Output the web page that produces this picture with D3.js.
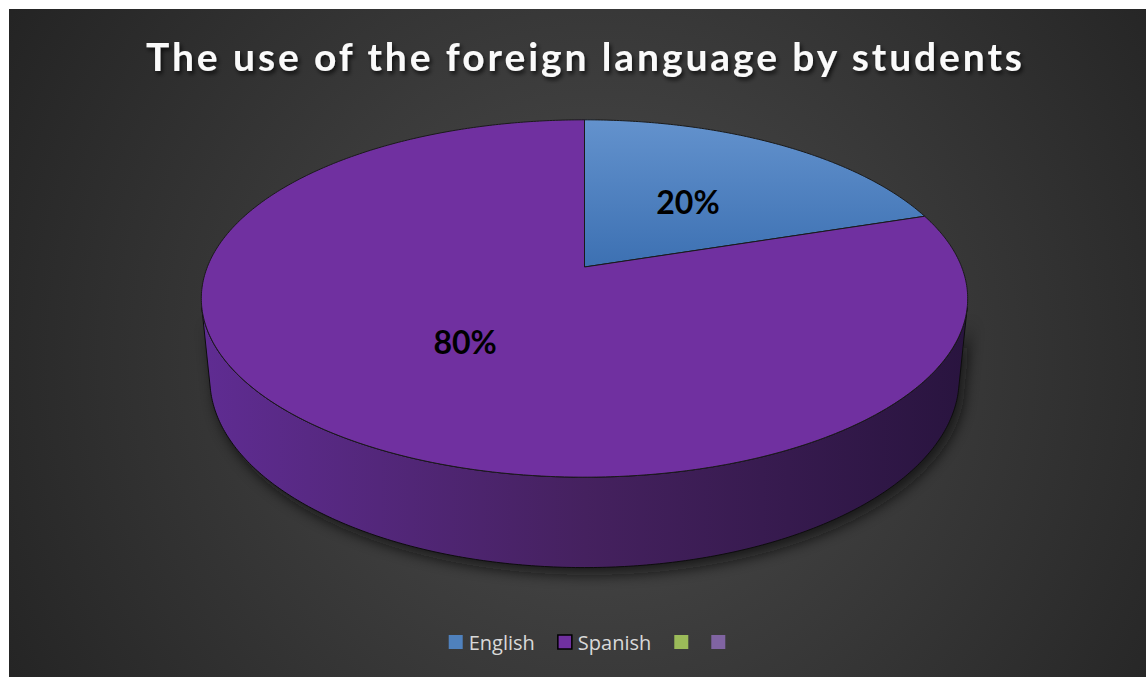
<!DOCTYPE html>
<html>
<head>
<meta charset="utf-8">
<script src="https://cdn.jsdelivr.net/npm/d3@7"></script>
<style>
body { margin: 0; background: #fff; }
</style>
</head>
<body>
<svg width="1147" height="677"></svg>
<script>
var titleText = "The use of the foreign language by students";
var categories = ["English", "Spanish", "", ""];
var shares = [20, 80, 0, 0];

var topColors = ["#4f81bd", "#7030a0", "#9bbb59", "#8064a2"];
var svg = d3.select("svg");
var defs = svg.append("defs");

// chart area with the dark radial fill
var bg = defs.append("radialGradient").attr("id", "bg")
  .attr("gradientUnits", "userSpaceOnUse")
  .attr("cx", 600).attr("cy", 360).attr("r", 700);
bg.append("stop").attr("offset", 0).attr("stop-color", "#4d4d4d");
bg.append("stop").attr("offset", 1).attr("stop-color", "#232323");

svg.append("rect").attr("x", 9).attr("y", 9).attr("width", 1137).attr("height", 668)
  .attr("fill", "url(#bg)");

// title
var ts = defs.append("filter").attr("id", "tshadow").attr("x", "-10%").attr("y", "-30%")
  .attr("width", "120%").attr("height", "160%");
ts.append("feDropShadow").attr("dx", 2).attr("dy", 3).attr("stdDeviation", 2)
  .attr("flood-color", "#000").attr("flood-opacity", 0.7);

svg.append("text")
  .text(titleText)
  .attr("x", 584).attr("y", 71)
  .attr("text-anchor", "middle")
  .attr("font-family", "Lato")
  .attr("font-weight", "bold")
  .attr("font-size", "39px")
  .attr("textLength", 876)
  .attr("lengthAdjust", "spacing")
  .attr("fill", "#fafafa")
  .attr("filter", "url(#tshadow)");

// perspective pie: world circle radius 1, camera tilt and distance fitted to picture
var cx = 584.5, cy = 267;
var sinA = 0.459, cosA = Math.sqrt(1 - sinA * sinA);
var D = 5.04, F = 1901, depth = 0.242;

function project(phi, r, yw) {
  var X = r * Math.sin(phi), Z = -r * Math.cos(phi);
  var zc = Z * cosA + yw * sinA;
  var yc = yw * cosA - Z * sinA;
  var s = F / (D - zc);
  return [cx + X * s, cy - yc * s];
}

var pie = d3.pie().sort(null).value(function (d) { return d; });
var arcs = pie(shares);

function arcPoints(a0, a1, r, yw) {
  var n = Math.max(2, Math.ceil(Math.abs(a1 - a0) / 0.01));
  return d3.range(n + 1).map(function (i) { return project(a0 + (a1 - a0) * i / n, r, yw); });
}

var line = d3.line();

// visible range of the outer wall
var cut = Math.acos(-1 / (D * cosA));
var visLo = cut, visHi = 2 * Math.PI - cut;

// shadow under the pie
var sh = defs.append("filter").attr("id", "pshadow").attr("x", "-20%").attr("y", "-20%")
  .attr("width", "140%").attr("height", "140%");
sh.append("feGaussianBlur").attr("stdDeviation", 7);

var shadowG = svg.append("g").attr("filter", "url(#pshadow)").attr("opacity", 0.75)
  .attr("transform", "translate(5,7)");
shadowG.append("path").attr("fill", "#111")
  .attr("d", line(arcPoints(0, 2 * Math.PI, 1, -depth)) + "Z");
shadowG.append("path").attr("fill", "#111")
  .attr("d", line(arcPoints(visLo, visHi, 1, 0).concat(arcPoints(visHi, visLo, 1, -depth))) + "Z");

// side wall shading, lighter on the left
var sideStops = {
  "#7030a0": ["#5f2c92", "#45215f", "#29143f"],
  "#4f81bd": ["#3f6ea8", "#2f5584", "#1f3a5c"],
  "#9bbb59": ["#86a448", "#6a8438", "#4b5e26"],
  "#8064a2": ["#6c548a", "#54416b", "#3a2d4b"]
};
arcs.forEach(function (a, i) {
  var g = defs.append("linearGradient").attr("id", "side" + i)
    .attr("gradientUnits", "userSpaceOnUse")
    .attr("x1", 205).attr("y1", 0).attr("x2", 965).attr("y2", 0);
  var st = sideStops[topColors[i]];
  g.append("stop").attr("offset", 0).attr("stop-color", st[0]);
  g.append("stop").attr("offset", 0.5).attr("stop-color", st[1]);
  g.append("stop").attr("offset", 1).attr("stop-color", st[2]);
});

arcs.forEach(function (a, i) {
  if (a.value <= 0) return;
  var lo = Math.max(a.startAngle, visLo), hi = Math.min(a.endAngle, visHi);
  if (hi <= lo) return;
  var pts = arcPoints(lo, hi, 1, 0).concat(arcPoints(hi, lo, 1, -depth));
  svg.append("path")
    .attr("d", line(pts) + "Z")
    .attr("fill", "url(#side" + i + ")")
    .attr("stroke", "#0d0d0d")
    .attr("stroke-width", 1)
    .attr("stroke-linejoin", "round");
});

// top faces
var blueTop = defs.append("linearGradient").attr("id", "top0")
  .attr("gradientUnits", "userSpaceOnUse")
  .attr("x1", 0).attr("y1", 120).attr("x2", 0).attr("y2", 268);
blueTop.append("stop").attr("offset", 0).attr("stop-color", "#6392cd");
blueTop.append("stop").attr("offset", 1).attr("stop-color", "#3c70b2");

arcs.forEach(function (a, i) {
  if (a.value <= 0) return;
  var pts = [project(0, 0, 0)].concat(arcPoints(a.startAngle, a.endAngle, 1, 0));
  svg.append("path")
    .attr("d", line(pts) + "Z")
    .attr("fill", i === 0 ? "url(#top0)" : topColors[i])
    .attr("stroke", "#1a1a1a")
    .attr("stroke-width", 1)
    .attr("stroke-linejoin", "round");
});

// percent labels
var total = d3.sum(shares);
arcs.forEach(function (a) {
  if (a.value <= 0) return;
  var p = project((a.startAngle + a.endAngle) / 2, 0.5, 0);
  svg.append("text")
    .text(Math.round(a.value / total * 100) + "%")
    .attr("x", p[0]).attr("y", p[1] + 12)
    .attr("text-anchor", "middle")
    .attr("font-family", "Lato")
    .attr("font-weight", "bold")
    .attr("font-size", "32px")
    .attr("fill", "#000");
});

// legend
var legend = svg.append("g");
var x = 0, box = 14, textGap = 6, itemGap = 23;
categories.forEach(function (c, i) {
  legend.append("rect")
    .attr("x", x).attr("y", -box / 2 - 1)
    .attr("width", box).attr("height", box)
    .attr("fill", topColors[i])
    .attr("stroke", i === 1 ? "#000" : "none")
    .attr("stroke-width", 1.5);
  x += box;
  if (c) {
    var t = legend.append("text")
      .text(c)
      .attr("x", x + textGap).attr("y", 7)
      .attr("font-family", "Open Sans")
      .attr("font-size", "20px")
      .attr("fill", "#d9d9d9");
    x += textGap + t.node().getComputedTextLength();
  }
  x += itemGap;
});
x -= itemGap;
legend.attr("transform", "translate(" + (587 - x / 2) + ",643)");
</script>
</body>
</html>
